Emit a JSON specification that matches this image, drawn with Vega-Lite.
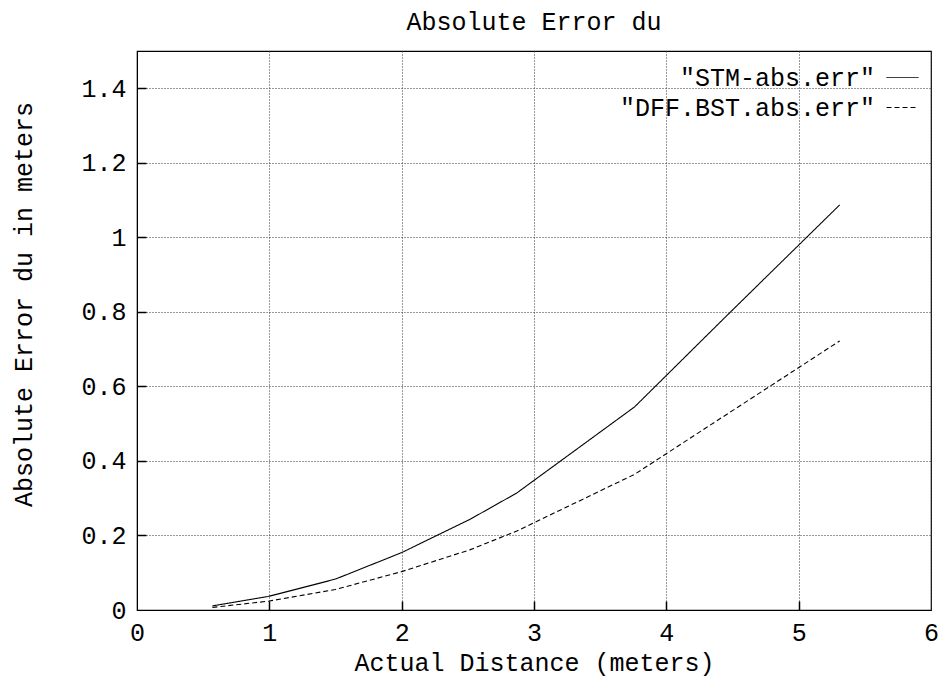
{
  "$schema": "https://vega.github.io/schema/vega-lite/v6.json",
  "width": 794,
  "height": 559,
  "autosize": {"type": "none"},
  "padding": {"left": 137, "top": 51, "right": 10, "bottom": 67},
  "background": "white",
  "title": {"text": "Absolute Error du", "font": "Liberation Mono", "fontSize": 25, "fontWeight": "normal", "color": "#000", "anchor": "middle", "offset": 16},
  "config": {
    "view": {"stroke": "#000", "strokeWidth": 1.2},
    "axis": {"labelFont": "Liberation Mono", "titleFont": "Liberation Mono", "labelFontSize": 25, "titleFontSize": 25, "titleFontWeight": "normal", "labelColor": "#000", "titleColor": "#000", "domainColor": "#000", "tickColor": "#000", "tickWidth": 1.5, "tickOpacity": 1}
  },
  "data": {"values": [
    {"d": 0.57, "err": 0.011, "series": "\"STM-abs.err\""},
    {"d": 1.0, "err": 0.037, "series": "\"STM-abs.err\""},
    {"d": 1.5, "err": 0.083, "series": "\"STM-abs.err\""},
    {"d": 2.0, "err": 0.154, "series": "\"STM-abs.err\""},
    {"d": 2.52, "err": 0.244, "series": "\"STM-abs.err\""},
    {"d": 2.87, "err": 0.314, "series": "\"STM-abs.err\""},
    {"d": 3.76, "err": 0.545, "series": "\"STM-abs.err\""},
    {"d": 4.5, "err": 0.805, "series": "\"STM-abs.err\""},
    {"d": 5.31, "err": 1.087, "series": "\"STM-abs.err\""},
    {"d": 0.57, "err": 0.007, "series": "\"DFF.BST.abs.err\""},
    {"d": 1.0, "err": 0.024, "series": "\"DFF.BST.abs.err\""},
    {"d": 1.5, "err": 0.055, "series": "\"DFF.BST.abs.err\""},
    {"d": 2.0, "err": 0.103, "series": "\"DFF.BST.abs.err\""},
    {"d": 2.52, "err": 0.162, "series": "\"DFF.BST.abs.err\""},
    {"d": 2.87, "err": 0.212, "series": "\"DFF.BST.abs.err\""},
    {"d": 3.76, "err": 0.364, "series": "\"DFF.BST.abs.err\""},
    {"d": 4.5, "err": 0.535, "series": "\"DFF.BST.abs.err\""},
    {"d": 5.31, "err": 0.722, "series": "\"DFF.BST.abs.err\""}
  ]},
  "layer": [
    {
      "mark": {"type": "line", "color": "#000", "strokeWidth": 1.1},
      "encoding": {
        "x": {"field": "d", "type": "quantitative", "scale": {"domain": [0, 6], "nice": false, "zero": false},
          "axis": {"orient": "bottom", "values": [0, 1, 2, 3, 4, 5, 6], "format": "~g", "title": "Actual Distance (meters)", "grid": true, "gridColor": "#333", "gridDash": [1, 2], "gridWidth": 1, "ticks": false, "labelPadding": 10, "titlePadding": 5, "labelFlush": false}},
        "y": {"field": "err", "type": "quantitative", "scale": {"domain": [0, 1.5], "nice": false},
          "axis": {"orient": "left", "values": [0, 0.2, 0.4, 0.6, 0.8, 1, 1.2, 1.4], "format": "~g", "title": "Absolute Error du in meters", "grid": true, "gridColor": "#333", "gridDash": [1, 2], "gridWidth": 1, "ticks": false, "labelPadding": 11, "labelFlush": false, "titleX": -114, "titleY": 253, "titleAngle": -90, "titleBaseline": "middle", "titleAlign": "center"}},
        "strokeDash": {"field": "series", "type": "nominal", "sort": ["\"STM-abs.err\"", "\"DFF.BST.abs.err\""],
          "scale": {"domain": ["\"STM-abs.err\"", "\"DFF.BST.abs.err\""], "range": [[1, 0], [5, 3]]},
          "legend": {"title": null, "orient": "top-right", "offset": 10, "symbolSize": 1024, "symbolStrokeColor": "#000", "symbolStrokeWidth": 1, "labelFont": "Liberation Mono", "labelFontSize": 25, "labelColor": "#000", "labelAlign": "right", "labelOffset": -44, "rowPadding": -13, "symbolType": "stroke", "labelLimit": 400}}
      }
    },
    {
      "mark": {"type": "line", "opacity": 0},
      "encoding": {
        "x": {"field": "d", "type": "quantitative", "scale": {"domain": [0, 6], "nice": false, "zero": false},
          "axis": {"orient": "bottom", "offset": -9, "values": [1, 2, 3, 4, 5], "ticks": true, "tickSize": 9, "tickColor": "black", "tickWidth": 1.5, "tickOpacity": 1, "tickDash": [], "labels": false, "title": null, "grid": false, "domain": false, "zindex": 3}},
        "y": {"field": "err", "type": "quantitative", "scale": {"domain": [0, 1.5], "nice": false},
          "axis": {"orient": "left", "offset": -9, "values": [0.2, 0.4, 0.6, 0.8, 1, 1.2, 1.4], "ticks": true, "tickSize": 9, "tickColor": "black", "tickWidth": 1.5, "tickOpacity": 1, "tickDash": [], "labels": false, "title": null, "grid": false, "domain": false, "zindex": 3}},
        "detail": {"field": "series"}
      }
    }
  ],
  "resolve": {"scale": {"x": "independent", "y": "independent"}, "axis": {"x": "independent", "y": "independent"}}
}
